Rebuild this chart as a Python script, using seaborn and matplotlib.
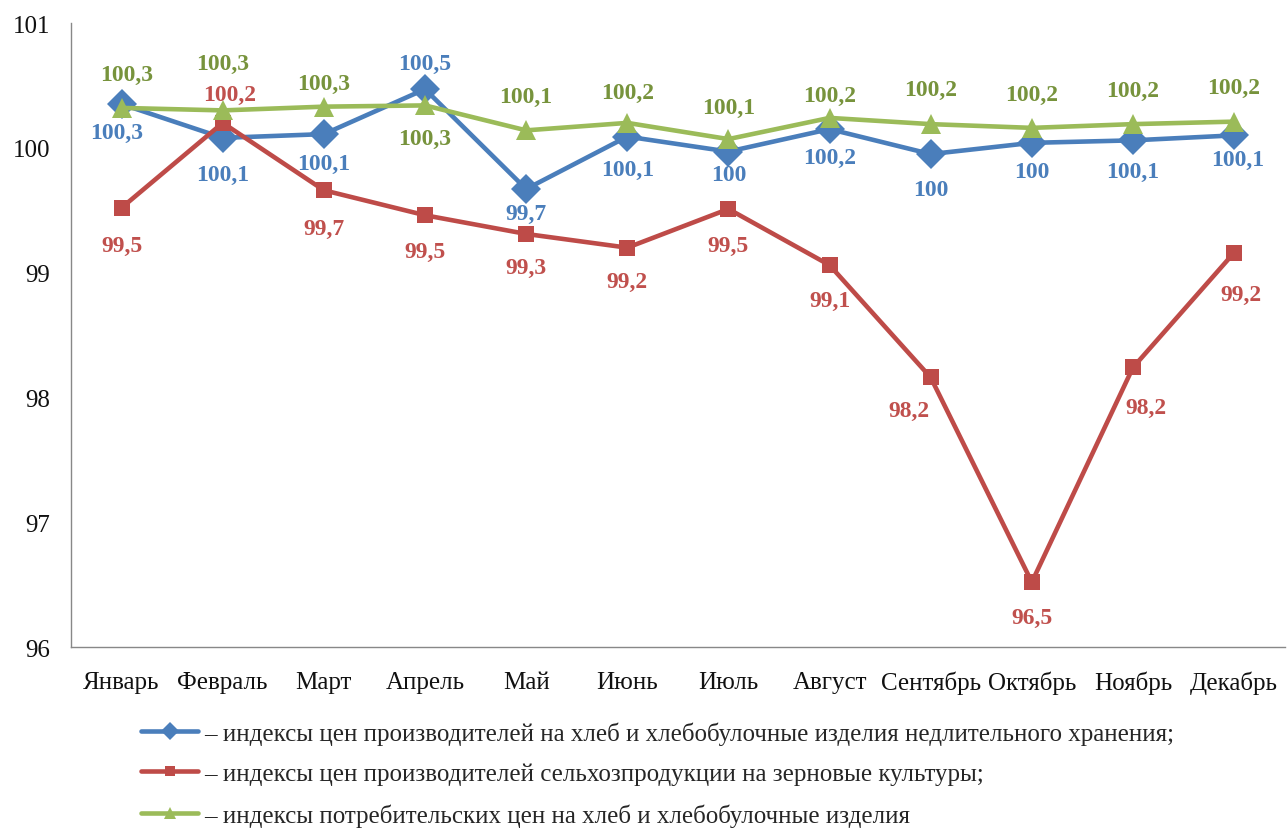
"""
Индексы цен на хлеб и зерновые по месяцам (линейный график с подписями).
"""

import numpy as np
import pandas as pd
import matplotlib
matplotlib.use("Agg")
import matplotlib.pyplot as plt
import seaborn as sns

# ─────────────────────────────────────────────
# ДАННЫЕ
# ─────────────────────────────────────────────
MONTHS = ["Январь", "Февраль", "Март", "Апрель", "Май", "Июнь",
          "Июль", "Август", "Сентябрь", "Октябрь", "Ноябрь", "Декабрь"]

bread_prod = [100.35, 100.08, 100.11, 100.47, 99.67, 100.09,
              99.97, 100.15, 99.95, 100.04, 100.06, 100.10]
grain_prod = [99.52, 100.20, 99.66, 99.46, 99.31, 99.20,
              99.51, 99.06, 98.16, 96.52, 98.24, 99.16]
bread_cons = [100.32, 100.30, 100.33, 100.34, 100.14, 100.20,
              100.07, 100.24, 100.19, 100.16, 100.19, 100.21]

bread_prod_lbl = ["100,3", "100,1", "100,1", "100,5", "99,7", "100,1",
                  "100", "100,2", "100", "100", "100,1", "100,1"]
grain_prod_lbl = ["99,5", "100,2", "99,7", "99,5", "99,3", "99,2",
                  "99,5", "99,1", "98,2", "96,5", "98,2", "99,2"]
bread_cons_lbl = ["100,3", "100,3", "100,3", "100,3", "100,1", "100,2",
                  "100,1", "100,2", "100,2", "100,2", "100,2", "100,2"]

LEGEND_LABELS = [
    "– индексы цен производителей на хлеб и хлебобулочные изделия недлительного хранения;",
    "– индексы цен производителей сельхозпродукции на зерновые культуры;",
    "– индексы потребительских цен на хлеб и хлебобулочные изделия",
]

# смещения подписей (пиксели)
BLUE_DX = [-5, 0, 0, 0, 0, 0, 0, 0, 0, 0, 0, 4]
BLUE_DY = [-28, -37, -29, 26, -24, -33, -23, -28, -35, -29, -31, -24]
RED_DX = [0, 7, 0, 0, 0, 0, 0, 0, -22, 0, 13, 7]
RED_DY = [-38, 28, -38, -36, -34, -34, -36, -35, -33, -35, -40, -42]
GREEN_DX = [5, 0, 0, 0, 0, 0, 0, 0, 0, 0, 0, 0]
GREEN_DY = [33, 47, 23, -33, 34, 30, 32, 22, 35, 33, 34, 34]

BLUE, RED, GREEN = "#4A7EBB", "#BE4B48", "#9BBB59"
BLUE_T, RED_T, GREEN_T = "#4A7EBB", "#C0504D", "#77933C"

# ─────────────────────────────────────────────
# ГРАФИК
# ─────────────────────────────────────────────
sns.set_style("white")
plt.rcParams["font.family"] = ["Liberation Serif", "DejaVu Serif"]

df = pd.DataFrame({
    "x": np.arange(len(MONTHS)),
    "bread_prod": bread_prod,
    "grain_prod": grain_prod,
    "bread_cons": bread_cons,
})

fig = plt.figure(figsize=(12.87, 8.29), dpi=100)
ax = fig.add_axes([0.0552, 0.2183, 0.943, 0.7527])

series = [
    ("bread_prod", BLUE, BLUE_T, "D", 15, bread_prod_lbl, BLUE_DX, BLUE_DY),
    ("grain_prod", RED, RED_T, "s", 11, grain_prod_lbl, RED_DX, RED_DY),
    ("bread_cons", GREEN, GREEN_T, "^", 15, bread_cons_lbl, GREEN_DX, GREEN_DY),
]

for col, color, tcolor, mk, ms, labels, dxs, dys in series:
    sns.lineplot(data=df, x="x", y=col, color=color, linewidth=3.3,
                 marker=mk, markersize=ms, markeredgewidth=0,
                 legend=False, ax=ax)
    for xi, yi, txt, dx, dy in zip(df["x"], df[col], labels, dxs, dys):
        ax.annotate(txt, (xi, yi), xytext=(dx, dy), textcoords="offset pixels",
                    ha="center", va="center", fontsize=17,
                    fontweight="bold", color=tcolor)

ax.set_xlim(-0.5, len(MONTHS) - 0.5)
ax.set_ylim(96, 101)
ax.set_yticks([96, 97, 98, 99, 100, 101])
ax.set_yticklabels(["96", "97", "98", "99", "100", "101"])

# метки делений между категориями, подписи по центрам
ax.set_xticks(np.arange(0.5, len(MONTHS) - 0.5, 1.0))
ax.set_xticklabels([])
ax.set_xticks(np.arange(len(MONTHS)), minor=True)
ax.set_xticklabels(MONTHS, minor=True)
ax.tick_params(axis="x", which="major", direction="in", length=7,
               width=1, color="#888888")
ax.tick_params(axis="x", which="minor", length=0, pad=17,
               labelsize=18, labelcolor="#111111")
ax.tick_params(axis="y", direction="out", length=5, width=1,
               color="#888888", pad=10, labelsize=18, labelcolor="#111111")
ax.set_xlabel("")
ax.set_ylabel("")

for side in ["top", "right"]:
    ax.spines[side].set_visible(False)
for side in ["left", "bottom"]:
    ax.spines[side].set_color("#888888")
    ax.spines[side].set_linewidth(1)

fig.legend(handles=ax.lines[:3], labels=LEGEND_LABELS,
           loc="upper left", bbox_to_anchor=(0.1096, 0.129),
           frameon=False, fontsize=18, markerscale=0.6,
           handlelength=2.28, handletextpad=0.25, labelspacing=0.72,
           borderpad=0, borderaxespad=0)

plt.savefig("out.png", dpi=100)
